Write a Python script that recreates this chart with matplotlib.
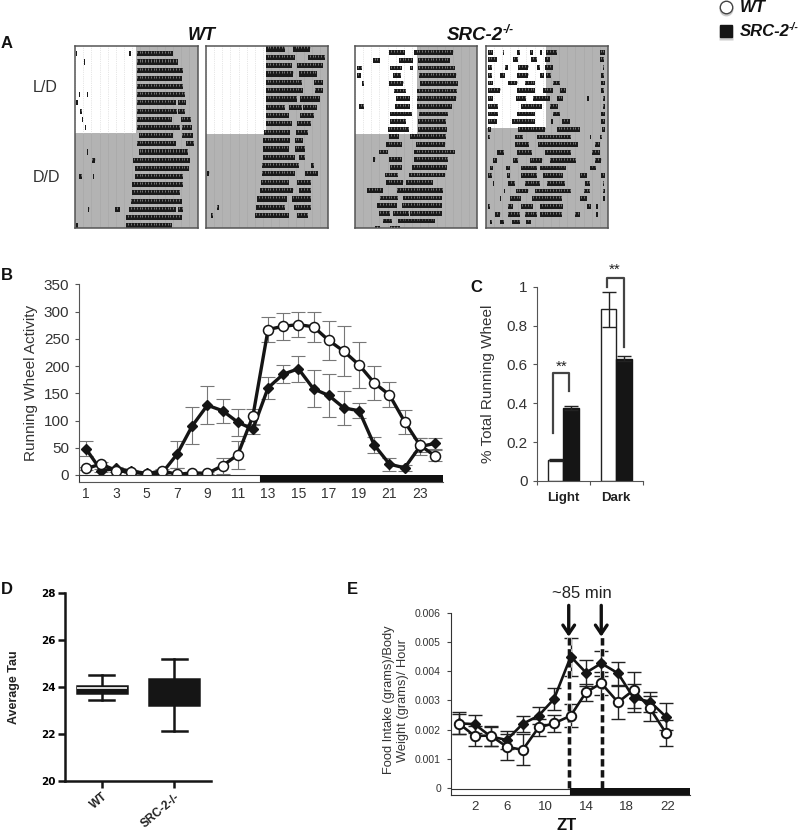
import matplotlib
matplotlib.use("Agg")
import matplotlib.pyplot as plt
import matplotlib.patheffects as pe
import numpy as np

plt.rcParams['font.family'] = ['Liberation Sans', 'DejaVu Sans']

W, H = 800, 832

# Panel A, activity bouts per day row as (on, off) in hours
wt1_rows = [
    [(0.1, 0.4), (10.6, 11.0), (12.1, 19.2)], [(1.7, 2.0), (12.1, 20.2)], [(12.1, 21.1)], [(12.1, 20.9)],
    [(12.1, 21.2)], [(0.7, 0.9), (2.4, 2.6), (12.1, 21.5)], [(0.2, 0.5), (12.1, 19.8), (20.2, 21.7)],
    [(1.0, 1.3), (12.1, 19.9), (20.2, 21.5)], [(1.3, 1.6), (12.1, 19.1), (20.7, 22.8)],
    [(1.9, 2.1), (12.1, 20.5), (20.9, 23.0)], [(12.6, 19.2), (20.9, 23.1)], [(12.1, 19.8), (21.7, 23.3)],
    [(2.4, 2.6), (12.6, 20.2), (20.2, 22.2)], [(3.3, 3.9), (11.4, 22.5)], [(11.7, 22.4)],
    [(0.8, 1.3), (3.6, 3.8), (11.7, 21.1)], [(11.1, 21.1)], [(11.1, 20.5)], [(10.9, 20.9)],
    [(2.5, 2.8), (7.8, 8.8), (10.6, 19.8), (20.2, 21.1)], [(10.0, 20.9)], [(0.2, 0.5), (10.0, 19.1)],
]
wt2_rows = [
    [(11.7, 15.5), (17.1, 20.4)], [(11.7, 17.5), (20.1, 23.3)], [(11.7, 16.8), (17.8, 23.0)],
    [(11.7, 17.1), (18.2, 21.7)], [(11.7, 18.8), (21.1, 23.0)], [(11.7, 19.1), (21.4, 22.9)],
    [(11.7, 17.8), (18.4, 22.4)], [(11.7, 15.5), (16.2, 18.8), (19.1, 21.7)], [(11.7, 16.2), (18.4, 21.1)],
    [(11.7, 16.8), (17.9, 20.7)], [(11.4, 16.4), (17.7, 20.1)], [(11.2, 16.5), (17.5, 19.1)],
    [(11.2, 16.2), (17.5, 19.4)], [(11.2, 17.5), (18.2, 19.4)], [(10.9, 18.2), (20.7, 21.2)],
    [(0.1, 0.6), (10.9, 17.5), (19.4, 22.0)], [(10.8, 16.2), (17.8, 20.7)], [(10.5, 17.1), (18.3, 20.7)],
    [(10.1, 15.8), (16.8, 20.7)], [(2.1, 2.6), (9.9, 15.5), (17.3, 20.7)], [(0.9, 1.3), (9.6, 16.2), (17.9, 20.1)],
]
src1_rows = [
    [(6.7, 9.8), (11.6, 19.3)], [(3.6, 4.9), (8.7, 11.4), (12.4, 18.6)], [(0.3, 1.3), (6.9, 9.2), (10.7, 11.4), (12.4, 19.6)],
    [(0.3, 1.1), (7.4, 9.0), (12.6, 19.9)], [(1.3, 1.8), (6.7, 9.5), (12.8, 20.3)], [(7.7, 10.0), (12.2, 20.1)],
    [(8.0, 10.8), (12.1, 19.9)], [(0.7, 1.8), (7.8, 10.7), (12.2, 19.0)], [(6.9, 11.1), (12.6, 18.3)],
    [(6.9, 10.1), (12.4, 17.9)], [(6.5, 10.5), (12.4, 18.0)], [(6.7, 8.7), (10.8, 17.9)],
    [(6.1, 9.2), (11.9, 17.7)], [(4.8, 6.5), (11.6, 19.6)], [(3.5, 3.9), (6.7, 9.2), (11.6, 18.3)],
    [(6.9, 9.2), (11.1, 18.0)], [(5.8, 8.5), (10.5, 17.7)], [(6.1, 9.5), (10.1, 15.4)],
    [(2.3, 5.4), (8.2, 17.3)], [(4.9, 8.5), (9.5, 17.0)], [(4.4, 8.2), (9.2, 17.0)],
    [(4.8, 6.9), (7.5, 10.5), (10.7, 17.0)], [(5.4, 7.2), (8.5, 15.7)], [(3.9, 4.9), (6.9, 8.8)],
]
src2_rows = [
    [(0.5, 1.4), (3.3, 3.6), (6.1, 6.7), (8.7, 9.3), (10.6, 11.0), (11.9, 13.9), (22.4, 23.5)],
    [(0.5, 2.2), (5.3, 6.4), (8.8, 10.0), (11.6, 12.6), (22.4, 23.3)],
    [(0.5, 1.2), (3.8, 4.3), (6.3, 8.3), (10.0, 10.6), (11.6, 13.2), (23.0, 23.3)],
    [(0.5, 1.2), (2.9, 3.8), (6.1, 8.3), (10.6, 11.4), (11.9, 12.9), (22.7, 23.3)],
    [(0.5, 1.5), (4.4, 6.1), (7.7, 9.6), (13.2, 14.5), (22.7, 23.5)],
    [(0.5, 2.8), (6.2, 9.6), (11.3, 13.2), (14.5, 15.8), (22.7, 23.3)],
    [(0.5, 1.4), (5.9, 7.9), (9.3, 12.6), (13.9, 15.1), (19.9, 20.3), (23.0, 23.5)],
    [(0.5, 2.5), (6.9, 11.0), (12.6, 14.2), (23.0, 23.5)],
    [(0.5, 2.5), (6.1, 9.6), (13.2, 14.5), (22.6, 23.5)],
    [(0.5, 2.2), (5.1, 9.6), (12.9, 13.2), (14.9, 16.5), (22.6, 23.5)],
    [(0.5, 1.0), (6.4, 11.6), (13.9, 18.5), (22.9, 23.5)],
    [(0.5, 0.8), (5.7, 7.4), (10.0, 16.8), (20.4, 20.7), (22.4, 22.9)],
    [(5.7, 8.5), (10.3, 18.1), (21.4, 22.4)],
    [(2.2, 3.5), (6.2, 9.0), (11.6, 16.8), (20.9, 22.4)],
    [(1.5, 2.2), (5.4, 6.4), (8.7, 11.1), (12.6, 17.8), (21.4, 22.7)],
    [(0.8, 1.5), (4.0, 4.8), (7.0, 10.0), (10.6, 15.8), (20.4, 21.6)],
    [(0.5, 1.2), (4.1, 4.8), (7.0, 10.0), (11.3, 15.2), (18.6, 19.8), (22.7, 23.5)],
    [(1.4, 1.6), (4.4, 5.7), (7.7, 10.6), (12.1, 15.5), (19.4, 20.4), (23.0, 23.3)],
    [(3.5, 3.8), (5.9, 8.3), (9.6, 16.8), (19.2, 20.5), (23.0, 23.5)],
    [(2.8, 3.1), (4.8, 7.0), (9.0, 14.9), (18.6, 19.8), (23.1, 23.5)],
    [(0.5, 0.8), (4.3, 5.4), (7.0, 9.3), (10.6, 15.1), (19.8, 20.7), (21.7, 22.0)],
    [(1.8, 2.8), (4.3, 6.7), (7.7, 10.0), (10.6, 14.9), (17.5, 18.5), (21.7, 22.0)],
    [(0.8, 1.2), (2.9, 3.5), (5.1, 6.7), (8.0, 8.8)],
]

# Panel B
hours = np.arange(1, 25)
wheel_wt = [12, 20, 8, 5, 2, 8, 1, 4, 3, 17, 37, 108, 267, 273, 276, 272, 247, 227, 202, 169, 147, 98, 55, 35]
wheel_wt_err = [3, 3, 3, 2, 1, 3, 12, 2, 2, 15, 26, 14, 23, 25, 23, 27, 36, 46, 42, 31, 23, 22, 12, 10]
wheel_ko = [48, 8, 12, 7, 3, 3, 38, 90, 128, 118, 97, 84, 160, 185, 195, 158, 146, 123, 118, 55, 20, 13, 52, 58]
wheel_ko_err = [14, 3, 3, 3, 2, 2, 25, 34, 35, 22, 25, 8, 20, 16, 24, 34, 40, 31, 14, 14, 12, 5, 15, 10]

# Panel C
phase_labels = ['Light', 'Dark']
phase_wt = [0.11, 0.885]
phase_wt_err = [0.005, 0.09]
phase_ko = [0.375, 0.63]
phase_ko_err = [0.012, 0.012]

# Panel D
tau_labels = ['WT', 'SRC-2-/-']
tau_whislo = [23.45, 22.15]
tau_q1 = [23.75, 23.25]
tau_med = [23.95, 23.7]
tau_q3 = [24.07, 24.35]
tau_whishi = [24.5, 25.2]

# Panel E
zt = [1.54, 3.05, 4.62, 6.2, 7.77, 9.34, 10.85, 12.5, 14.0, 15.5, 17.15, 18.7, 20.3, 21.84]
food_ko = [.00222, .00219, .00177, .00165, .0022, .00248, .00305, .0045, .00395, .00427, .00393, .00308, .00296, .00245]
food_ko_err = [.00038, .0003, .00034, .0003, .00028, .0003, .00037, .00065, .00044, .00042, .0004, .00047, .00034, .00045]
food_wt = [.0022, .00179, .0018, .00142, .00131, .00208, .00222, .00248, .00328, .00359, .00294, .00336, .00273, .0019]
food_wt_err = [.00034, .00033, .00034, .00044, .00053, .0003, .0003, .0004, .0003, .0004, .00056, .0006, .00043, .00045]
zt_ticks = [3.05, 6.2, 10, 14, 18, 22]
zt_labels = ['2', '6', '10', '14', '18', '22']


def ax_px(left, top, right, bottom):
    return fig.add_axes([left / W, 1 - bottom / H, (right - left) / W, (bottom - top) / H])


def fig_text(x, y, s, **kw):
    kw.setdefault('ha', 'left')
    kw.setdefault('va', 'center')
    fig.text(x / W, 1 - y / H, s, **kw)


def actogram(box, rows, light_end, light_rows, row_lim):
    ax = ax_px(*box)
    ax.set_facecolor('#b3b3b3')
    ax.set_xlim(0, 24)
    ax.set_ylim(row_lim[1], row_lim[0])
    ax.fill_between([0, light_end], row_lim[0], light_rows, color='white', lw=0, zorder=1)
    # faint hour grid, dotted over the lit part
    grid_x = np.arange(0, 24, 1.6)
    ax.vlines(grid_x, light_rows, row_lim[1], color='#a6a6a6', lw=0.4, zorder=1.5)
    ax.vlines(grid_x[grid_x < light_end], row_lim[0], light_rows, color='#cfcfcf', lw=0.5, ls=':', zorder=1.5)
    ax.vlines(grid_x[grid_x >= light_end], row_lim[0], light_rows, color='#a6a6a6', lw=0.4, zorder=1.5)
    notch_x = np.arange(0, 24, 0.55)
    for i, row in enumerate(rows):
        ax.broken_barh([(a, b - a) for a, b in row], (i - 0.2, 0.62), color='#1a1a1a', lw=0, zorder=2)
        for a, b in row:
            xs = notch_x[(notch_x > a) & (notch_x < b)]
            # bumpy top edge of the bout
            ax.vlines(xs, i - 0.2, i + 0.05, color='#8e8e8e', lw=0.55, zorder=3)
    ax.set_xticks([])
    ax.set_yticks([])
    for s in ax.spines.values():
        s.set_color('#555555')
        s.set_linewidth(1.1)
    return ax


fig = plt.figure(figsize=(W / 100, H / 100), dpi=100)

# A
actogram((75, 46, 197.5, 228), wt1_rows, 11.9, 9.84, (-0.85, 21.4))
actogram((206, 46, 328.3, 228), wt2_rows, 11.7, 10.3, (-0.24, 21.6))
actogram((355, 46, 477.3, 228), src1_rows, 12.1, 10.8, (-0.78, 23.04))
actogram((485.7, 46, 608, 228), src2_rows, 11.8, 9.9, (-0.69, 22.9))

# B
ax = ax_px(79, 284.3, 443.3, 481.7)
ax.set_xlim(0.54, 24.55)
ax.set_ylim(-12.3, 350)
ax.errorbar(hours, wheel_wt, yerr=wheel_wt_err, fmt='none', ecolor='#777777', elinewidth=0.8, capsize=5, capthick=0.8, zorder=2)
ax.errorbar(hours, wheel_ko, yerr=wheel_ko_err, fmt='none', ecolor='#777777', elinewidth=0.8, capsize=5, capthick=0.8, zorder=2)
ax.plot(hours, wheel_ko, color='#151515', lw=2.4, marker='D', ms=5.2, zorder=3, clip_on=False)
ax.plot(hours, wheel_wt, color='#151515', lw=2.4, marker='o', ms=7.2, mfc='white', mec='#151515', mew=1.1, zorder=4, clip_on=False)
ax.barh(-6.1, 12.5 - 0.54, left=0.54, height=12, color='white', edgecolor='#333333', lw=0.8, zorder=5)
ax.barh(-6.1, 24.55 - 12.5, left=12.5, height=12.3, color='#111111', lw=0, zorder=5)
ax.set_xticks(hours[::2])
ax.set_yticks(range(0, 351, 50))
ax.tick_params(axis='x', length=0, labelsize=10, labelcolor='#333333', pad=4)
ax.tick_params(axis='y', length=3, color='#555555', labelsize=11, labelcolor='#333333', pad=4)
ax.set_ylabel('Running Wheel Activity', fontsize=11, color='#333333', labelpad=4)
ax.spines[['top', 'right']].set_visible(False)
ax.spines[['left', 'bottom']].set_color('#555555')

# C
ax = ax_px(536.7, 286.7, 642.7, 481)
ax.set_xlim(-0.5, 1.5)
ax.set_ylim(0, 1)
x = np.arange(len(phase_labels))
ax.bar(x - 0.145, phase_wt, width=0.29, color='white', edgecolor='#222222', lw=1, yerr=phase_wt_err,
       error_kw=dict(ecolor='#222222', elinewidth=1, capsize=5, capthick=1, clip_on=False))
ax.bar(x + 0.145, phase_ko, width=0.29, color='#151515', edgecolor='#151515', lw=1, yerr=phase_ko_err,
       error_kw=dict(ecolor='#222222', elinewidth=1, capsize=5, capthick=1))
ax.plot([-0.2, -0.2, 0.115, 0.115], [0.245, 0.557, 0.557, 0.463], color='#444444', lw=1.6, clip_on=False)
ax.plot([0.832, 0.832, 1.153, 1.153], [1.0, 1.046, 1.046, 0.691], color='#444444', lw=1.6, clip_on=False)
ax.text(-0.02, 0.59, '**', ha='center', va='center', fontsize=11, color='#222222')
ax.text(0.98, 1.085, '**', ha='center', va='center', fontsize=11, color='#222222')
ax.set_xticks([-0.5, 0.5, 1.5])
ax.set_xticklabels([])
for i, lab in enumerate(phase_labels):
    ax.text(x[i], -0.087, lab, ha='center', va='center', fontsize=9.5, fontweight='bold', color='#222222')
ax.set_yticks([0, 0.2, 0.4, 0.6, 0.8, 1])
ax.set_yticklabels(['0', '0.2', '0.4', '0.6', '0.8', '1'])
ax.tick_params(axis='both', length=3, color='#555555', labelsize=11, labelcolor='#333333')
ax.set_ylabel('% Total Running Wheel', fontsize=11, color='#333333', labelpad=8)
ax.spines[['top', 'right']].set_visible(False)
ax.spines[['left', 'bottom']].set_color('#555555')

# D
ax = ax_px(65, 593.3, 211, 781)
stats = []
for i in range(len(tau_labels)):
    stats.append(dict(label=tau_labels[i], whislo=tau_whislo[i], q1=tau_q1[i], med=tau_med[i], q3=tau_q3[i], whishi=tau_whishi[i], fliers=[]))
bp = ax.bxp(stats, positions=[1, 2], widths=0.69, patch_artist=True, showfliers=False,
            boxprops=dict(facecolor='#151515', edgecolor='#151515', linewidth=1.8),
            whiskerprops=dict(color='#151515', linewidth=1.8), capprops=dict(color='#151515', linewidth=1.8),
            medianprops=dict(color='#151515', linewidth=1.2))
bp['medians'][0].set_color('white')
ax.set_xlim(0.494, 2.505)
ax.set_ylim(20, 28)
ax.set_yticks([20, 22, 24, 26, 28])
ax.tick_params(axis='y', width=1.8, length=5, color='#151515', labelsize=7.5, pad=2)
ax.tick_params(axis='x', width=1.8, length=5, color='#151515', pad=2)
for lab in ax.get_yticklabels():
    lab.set_family('DejaVu Sans')
    lab.set_fontweight('bold')
ax.set_xticks([1, 2])
ax.set_xticklabels(tau_labels, rotation=40, ha='right', rotation_mode='anchor', fontsize=8.5, fontweight='bold', color='#222222')
ax.set_ylabel('Average Tau', fontsize=9, fontweight='bold', color='#222222', labelpad=15)
ax.spines[['top', 'right']].set_visible(False)
ax.spines[['left', 'bottom']].set_linewidth(1.8)
ax.spines[['left', 'bottom']].set_color('#151515')

# E
halo = [pe.withStroke(linewidth=3.6, foreground='#dddddd')]
ax = ax_px(450.7, 612.7, 690, 795)
ax.set_xlim(0.69, 24.23)
ax.set_ylim(-0.00023, 0.006)
ax.errorbar(zt, food_ko, yerr=food_ko_err, fmt='none', ecolor='#222222', elinewidth=1, capsize=5, capthick=1, zorder=2)
ax.errorbar(zt, food_wt, yerr=food_wt_err, fmt='none', ecolor='#222222', elinewidth=1, capsize=5, capthick=1, zorder=2)
ax.plot(zt, food_ko, color='#151515', lw=1.9, marker='D', ms=5, zorder=3)
ax.plot(zt, food_wt, color='#151515', lw=1.9, marker='o', ms=6.8, mfc='white', mec='#151515', mew=1.4, zorder=4)
for arrow_x in [12.35, 15.55]:
    ax.plot([arrow_x, arrow_x], [0, 0.00525], color='#151515', lw=2.4, ls=(0, (2.2, 1.1)), zorder=2.5, path_effects=halo)
    ax.annotate('', xy=(arrow_x - 0.05, 0.00518), xytext=(arrow_x - 0.05, 0.00625), annotation_clip=False, zorder=6,
                arrowprops=dict(arrowstyle='->,head_width=0.42,head_length=0.62', color='#111111', lw=2.4, shrinkA=0, shrinkB=0))
ax.barh(-0.000115, 12.4 - 0.69, left=0.69, height=0.00021, color='white', edgecolor='#333333', lw=0.8, zorder=5)
ax.barh(-0.000115, 24.23 - 12.4, left=12.4, height=0.00023, color='#111111', lw=0, zorder=5)
ax.set_xticks(zt_ticks)
ax.set_xticklabels(zt_labels)
ax.set_yticks([0, 0.001, 0.002, 0.003, 0.004, 0.005, 0.006])
ax.set_yticklabels(['0', '0.001', '0.002', '0.003', '0.004', '0.005', '0.006'])
ax.tick_params(axis='x', length=0, labelsize=9.5, labelcolor='#333333', pad=4)
ax.tick_params(axis='y', length=3, color='#444444', labelsize=7.5, labelcolor='#333333', pad=4)
ax.spines[['top', 'right']].set_visible(False)
ax.spines[['left', 'bottom']].set_color('#333333')

# Labels and legend
for lab, lx, ly in [('A', 1, 43), ('B', 1, 276), ('C', 470, 287), ('D', 1, 590), ('E', 347, 590)]:
    fig_text(lx, ly, lab, fontsize=12, fontweight='bold', color='#111111')
fig_text(201.7, 35, 'WT', fontsize=13, fontweight='bold', style='italic', ha='center', color='#111111')
fig_text(446.7, 35, 'SRC-2', fontsize=13.5, fontweight='bold', style='italic', color='#111111')
fig_text(503, 30, '-/-', fontsize=8.5, fontweight='bold', style='italic', color='#111111')
fig_text(33, 87, 'L/D', fontsize=11.5, color='#333333')
fig_text(33, 178, 'D/D', fontsize=11.5, color='#333333')
fig_text(582, 594, '~85 min', fontsize=12, ha='center', color='#222222')
fig_text(567, 825, 'ZT', fontsize=12, fontweight='bold', ha='center', color='#111111')
fig_text(396, 700, 'Food Intake (grams)/Body\nWeight (grams)/ Hour', fontsize=9.3, rotation=90, ha='center',
         multialignment='center', color='#333333')

key = fig.add_axes([0, 0, 1, 1], facecolor='none')
key.set_xlim(0, W)
key.set_ylim(H, 0)
key.axis('off')
key.plot([725.7], [8.5], marker='o', ms=10, mfc='#aaaaaa', mec='none', alpha=0.6)
key.plot([725.7], [7.3], marker='o', ms=9, mfc='white', mec='#444444', mew=1)
key.plot([725.7], [32.5], marker='s', ms=9.5, mfc='#aaaaaa', mec='none', alpha=0.6)
key.plot([725.7], [31], marker='s', ms=8.5, mfc='#151515', mec='#151515')
fig_text(740, 7, 'WT', fontsize=12, fontweight='bold', style='italic', color='#111111')
fig_text(740, 31, 'SRC-2', fontsize=12, fontweight='bold', style='italic', color='#111111')
fig_text(789, 27, '-/-', fontsize=7.5, fontweight='bold', style='italic', color='#111111')

fig.savefig('out.png', dpi=100)
